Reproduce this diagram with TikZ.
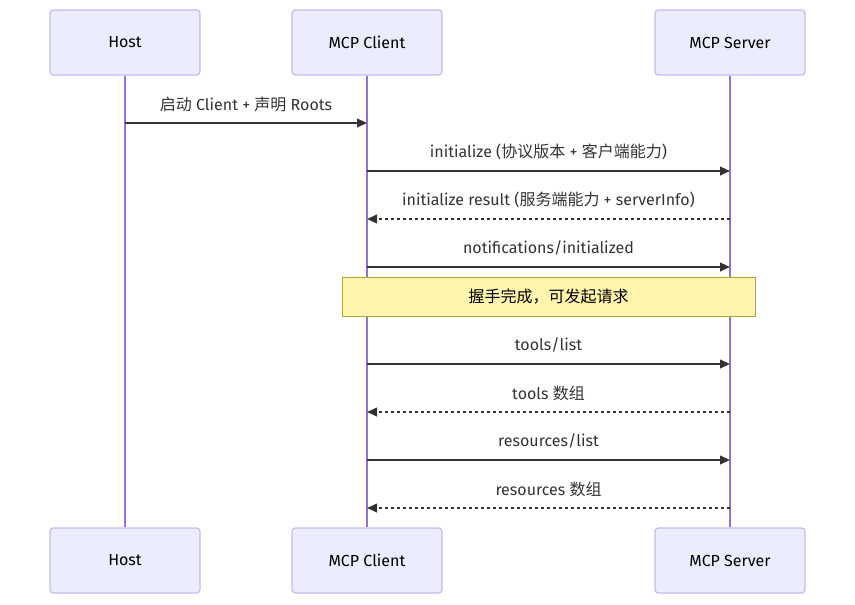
\documentclass[tikz,border=0pt]{standalone}
\usepackage{fontspec}
\setmainfont{Fira Sans}
\newfontfamily\cjk{Noto Sans CJK SC}
\usetikzlibrary{arrows.meta, positioning}
\definecolor{actorfill}{HTML}{ECECFF}
\definecolor{actorline}{HTML}{C9B8F2}
\definecolor{lifecol}{HTML}{9370DB}
\definecolor{msgcol}{HTML}{333333}
\definecolor{notefill}{HTML}{FFF5AD}
\definecolor{noteline}{HTML}{AAAA33}
\tikzset{
  actor/.style={draw=actorline, fill=actorfill, line width=0.9pt, rounded corners=2.5pt,
    minimum width=112.5pt, minimum height=48.75pt, font=\fontsize{12}{14}\selectfont, text=black},
  lifeline/.style={draw=lifecol, line width=1.3pt},
  msg/.style={draw=msgcol, line width=1.4pt, -{Triangle[length=7.5pt, width=6.5pt]}},
  reply/.style={msg, dash pattern=on 2.25pt off 2.25pt},
  msglabel/.style={font=\fontsize{12}{14}\selectfont, text=msgcol, yshift=14.25pt},
  notebox/.style={draw=noteline, fill=notefill, line width=0.75pt,
    minimum width=309.75pt, minimum height=29.25pt, font=\fontsize{12}{14}\selectfont, text=black}
}

\begin{document}
\begin{tikzpicture}[x=0.75pt, y=-0.75pt, >=Stealth]
  \useasboundingbox (0,0) rectangle (855,604);
  % Actors (top)
  \node[actor] (host)   at (125,42.5) {Host};
  \node[actor] (client) at (367,42.5) {MCP Client};
  \node[actor] (server) at (730,42.5) {MCP Server};
  % Actors (bottom)
  \node[actor] (hostB)   at (125,560.5) {Host};
  \node[actor] (clientB) at (367,560.5) {MCP Client};
  \node[actor] (serverB) at (730,560.5) {MCP Server};
  % Lifelines
  \draw[lifeline] (host)   -- (hostB);
  \draw[lifeline] (client) -- (clientB);
  \draw[lifeline] (server) -- (serverB);
  % Message points
  \coordinate (h1) at (125,123);  \coordinate (c1) at (367,123);
  \coordinate (c2) at (367,171);  \coordinate (s2) at (730,171);
  \coordinate (c3) at (367,219);  \coordinate (s3) at (730,219);
  \coordinate (c4) at (367,267);  \coordinate (s4) at (730,267);
  \coordinate (c5) at (367,364);  \coordinate (s5) at (730,364);
  \coordinate (c6) at (367,412);  \coordinate (s6) at (730,412);
  \coordinate (c7) at (367,460);  \coordinate (s7) at (730,460);
  \coordinate (c8) at (367,508);  \coordinate (s8) at (730,508);
  % Messages
  \draw[msg]   (h1) -- (c1) node[msglabel, midway] {{\cjk 启动} Client + {\cjk 声明} Roots};
  \draw[msg]   (c2) -- (s2) node[msglabel, midway] {initialize ({\cjk 协议版本} + {\cjk 客户端能力})};
  \draw[reply] (s3) -- (c3) node[msglabel, midway] {initialize result ({\cjk 服务端能力} + serverInfo)};
  \draw[msg]   (c4) -- (s4) node[msglabel, midway] {notifications/initialized};
  % Note
  \node[notebox] (note) at (548.5,296.5) {\cjk 握手完成，可发起请求};
  \draw[msg]   (c5) -- (s5) node[msglabel, midway] {tools/list};
  \draw[reply] (s6) -- (c6) node[msglabel, midway] {tools {\cjk 数组}};
  \draw[msg]   (c7) -- (s7) node[msglabel, midway] {resources/list};
  \draw[reply] (s8) -- (c8) node[msglabel, midway] {resources {\cjk 数组}};
\end{tikzpicture}
\end{document}
